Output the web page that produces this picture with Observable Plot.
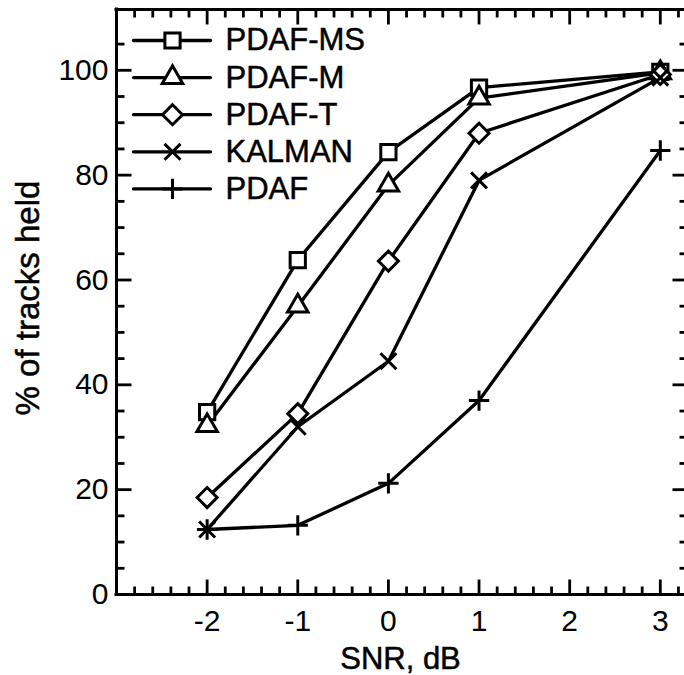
<!DOCTYPE html>
<html>
<head>
<meta charset="utf-8">
<script src="https://cdn.jsdelivr.net/npm/d3@7"></script>
<script src="https://cdn.jsdelivr.net/npm/@observablehq/plot@0.6"></script>
<style>
html, body { margin: 0; padding: 0; background: #fff; overflow: hidden; }
#chart { width: 684px; height: 675px; overflow: hidden; }
</style>
</head>
<body>
<div id="chart"></div>
<script>
// ---- data ----
const snr = [-2, -1, 0, 1, 3];
const seriesNames = ["PDAF-MS", "PDAF-M", "PDAF-T", "KALMAN", "PDAF"];
const pdafMS = [34.8, 63.8, 84.4, 96.7, 99.7];
const pdafM  = [32.2, 55.0, 78.1, 94.7, 99.5];
const pdafT  = [18.5, 34.5, 63.6, 88.0, 99.2];
const kalman = [12.4, 32.0, 44.5, 79.0, 98.6];
const pdaf   = [12.4, 13.2, 21.2, 37.0, 84.7];
const xTicks = [-2, -1, 0, 1, 2, 3];
const xTickLabels = ["-2", "-1", "0", "1", "2", "3"];
const yTicks = [0, 20, 40, 60, 80, 100];
const yTickLabels = ["0", "20", "40", "60", "80", "100"];
const xTitle = "SNR, dB";
const yTitle = "% of tracks held";
const xDomain = [-3, 3.3];
const yDomain = [0, 111.6];

// ---- build table ----
const seriesValues = [pdafMS, pdafM, pdafT, kalman, pdaf];
const rows = [];
seriesNames.forEach((name, s) => {
  snr.forEach((x, i) => rows.push({series: name, snr: x, value: seriesValues[s][i]}));
});

const symbols = {"PDAF-MS": "square", "PDAF-M": "triangle", "PDAF-T": "diamond2", "KALMAN": "times", "PDAF": "plus"};
const radii = {"PDAF-MS": 8.6, "PDAF-M": 7.6, "PDAF-T": 9, "KALMAN": 7.3, "PDAF": 6.6};

// tick positions
const xMinor = d3.range(-14, 17).map(i => i / 5).filter(v => Math.abs(v - Math.round(v)) > 1e-9);
const yMajorInner = yTicks.filter(v => v > 0);
const yMinor = d3.range(1, 22).map(i => i * 5).filter(v => v % 20 !== 0);

const segShape = {draw(ctx, l) { ctx.moveTo(0, 0); ctx.lineTo(0, -l); }};
const tickBase = {anchor: "start", shape: segShape, stroke: "black", strokeWidth: 2.8, strokeLinecap: "butt"};
const MAJ = 15, MIN = 8;

function sideTicks(vals, side, len) {
  if (side === "bottom") return Plot.vector(vals, {x: d => d, y: yDomain[0], length: len, rotate: 0, ...tickBase});
  if (side === "top") return Plot.vector(vals, {x: d => d, y: yDomain[1], length: len, rotate: 180, ...tickBase});
  if (side === "left") return Plot.vector(vals, {x: xDomain[0], y: d => d, length: len, rotate: 90, ...tickBase});
  return Plot.vector(vals, {x: xDomain[1], y: d => d, length: len, rotate: -90, ...tickBase});
}

const textInk = {fill: "black", stroke: "black", strokeWidth: 0.5};

const marks = [];
// frame
marks.push(Plot.ruleX(xDomain, {y1: yDomain[0], y2: yDomain[1], stroke: "black", strokeWidth: 3, strokeLinecap: "square"}));
marks.push(Plot.ruleY(yDomain, {x1: xDomain[0], x2: xDomain[1], stroke: "black", strokeWidth: 3, strokeLinecap: "square"}));
// ticks
for (const side of ["bottom", "top"]) {
  marks.push(sideTicks(xTicks, side, MAJ));
  marks.push(sideTicks(xMinor, side, MIN));
}
for (const side of ["left", "right"]) {
  marks.push(sideTicks(yMajorInner, side, MAJ));
  marks.push(sideTicks(yMinor, side, MIN));
}
// tick labels
marks.push(Plot.axisX(xTicks, {anchor: "bottom", tickSize: 0, tickPadding: 15, fontSize: 30,
  tickFormat: d => xTickLabels[xTicks.indexOf(d)], label: null, ...textInk}));
marks.push(Plot.axisY(yTicks, {anchor: "left", tickSize: 0, tickPadding: 8, fontSize: 30,
  tickFormat: d => yTickLabels[yTicks.indexOf(d)], label: null, ...textInk}));
// titles
marks.push(Plot.text([xTitle], {frameAnchor: "bottom", dy: 65, text: d => d, fontSize: 31,
  textAnchor: "middle", lineAnchor: "middle", ...textInk}));
marks.push(Plot.text([yTitle], {frameAnchor: "left", dx: -88, dy: -4, rotate: -90, text: d => d, fontSize: 33,
  textAnchor: "middle", lineAnchor: "middle", ...textInk}));

// lines
marks.push(Plot.line(rows, {x: "snr", y: "value", z: "series", stroke: "black", strokeWidth: 3.3, curve: "linear"}));
// markers
for (const name of seriesNames) {
  marks.push(Plot.dot(rows.filter(r => r.series === name), {
    x: "snr", y: "value", symbol: symbols[name], r: radii[name],
    fill: "white", stroke: "black", strokeWidth: 3
  }));
}
// legend (inside plot, top-left)
seriesNames.forEach((name, i) => {
  const dy = 31 + i * 37.1;
  marks.push(Plot.vector([0], {frameAnchor: "top-left", dx: 17, dy, length: 77, rotate: 90, anchor: "start",
    shape: segShape, stroke: "black", strokeWidth: 3.3}));
  marks.push(Plot.dot([0], {frameAnchor: "top-left", dx: 56, dy, symbol: symbols[name], r: radii[name],
    fill: "white", stroke: "black", strokeWidth: 3}));
  marks.push(Plot.text([name], {frameAnchor: "top-left", dx: 109, dy, text: d => d, textAnchor: "start",
    lineAnchor: "middle", fontSize: 31, ...textInk}));
});

const chart = Plot.plot({
  width: 684,
  height: 675,
  marginLeft: 116,
  marginRight: 0,
  marginTop: 9,
  marginBottom: 81,
  x: {domain: xDomain, range: [116, 687]},
  y: {domain: yDomain},
  style: {background: "white", color: "black", fontFamily: "'Liberation Sans', Arial, Helvetica, sans-serif", overflow: "hidden"},
  marks
});
document.getElementById("chart").appendChild(chart);
</script>
</body>
</html>
